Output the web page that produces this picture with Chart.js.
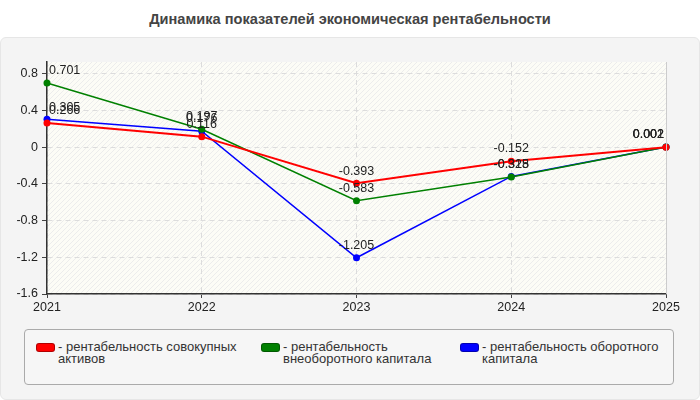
<!DOCTYPE html>
<html>
<head>
<meta charset="utf-8">
<script src="https://cdn.jsdelivr.net/npm/chart.js@4"></script>
<style>
  html, body { margin: 0; padding: 0; background: #fff; }
  body { width: 700px; height: 400px; position: relative; overflow: hidden; font-family: "Liberation Sans", Arial, sans-serif; }
  .title { position: absolute; left: 0; top: 11px; width: 700px; text-align: center; font-weight: bold; font-size: 14.6px; color: #444; }
  .panel { position: absolute; left: 0; top: 37px; width: 698px; height: 361px; background: #f4f4f4; border: 1px solid #e6e6e6; border-radius: 6px; }
  .chart-box { position: absolute; left: 0; top: 38px; width: 700px; height: 285px; }
  .legend { position: absolute; left: 24px; top: 329px; width: 648px; height: 54px; border: 1px solid #aaa; border-radius: 4px; background: #f6f6f6; font-family: "Liberation Sans Narrow", "Liberation Sans", sans-serif; font-size: 13px; color: #333; }
  .item { position: absolute; top: 11px; line-height: 12px; }
  .sw { position: absolute; left: 0; top: 2px; width: 17px; height: 7px; border-radius: 3px; border: 0.5px solid rgba(0,0,0,0.3); }
  .txt { position: absolute; left: 22px; top: 0; }
</style>
</head>
<body>
<div class="title">Динамика показателей экономическая рентабельности</div>
<div class="panel"></div>
<div class="chart-box"><canvas id="chart" width="700" height="285"></canvas></div>
<div class="legend" id="legend"></div>
<script>
const years = ['2021', '2022', '2023', '2024', '2025'];
const seriesNames = [
  'рентабельность совокупных активов',
  'рентабельность внеоборотного капитала',
  'рентабельность оборотного капитала'
];
const totalAssets = [0.266, 0.116, -0.393, -0.152, 0.001];
const fixedCapital = [0.701, 0.197, -0.583, -0.325, 0.002];
const workingCapital = [0.305, 0.176, -1.205, -0.318, 0.002];
const seriesColors = ['#ff0000', '#008000', '#0000ff'];
const yTicks = [-1.6, -1.2, -0.8, -0.4, 0, 0.4, 0.8];

const FONT = '"Liberation Sans", Arial, sans-serif';

// plot background with light hatching and a right border
const plotBg = {
  id: 'plotBg',
  beforeDraw(chart) {
    const { ctx, chartArea: a } = chart;
    ctx.save();
    ctx.fillStyle = '#fcfcf6';
    ctx.fillRect(a.left, a.top, a.right - a.left, a.bottom - a.top);
    ctx.beginPath();
    ctx.rect(a.left, a.top, a.right - a.left, a.bottom - a.top);
    ctx.clip();
    ctx.strokeStyle = '#ececec';
    ctx.lineWidth = 1;
    const h = a.bottom - a.top;
    for (let x = a.left - h; x < a.right; x += 5) {
      ctx.beginPath();
      ctx.moveTo(x, a.bottom);
      ctx.lineTo(x + h, a.top);
      ctx.stroke();
    }
    ctx.restore();
  },
  afterDraw(chart) {
    const { ctx, chartArea: a } = chart;
    ctx.save();
    ctx.strokeStyle = '#cccccc';
    ctx.lineWidth = 1;
    ctx.beginPath();
    ctx.moveTo(a.right + 0.5, a.top);
    ctx.lineTo(a.right + 0.5, a.bottom);
    ctx.stroke();
    ctx.restore();
  }
};

// value labels above points
const pointLabels = {
  id: 'pointLabels',
  afterDatasetsDraw(chart) {
    const { ctx } = chart;
    ctx.save();
    ctx.font = '12.5px "Liberation Sans", Arial, sans-serif';
    ctx.fillStyle = '#222';
    ctx.textBaseline = 'bottom';
    chart.data.datasets.forEach((ds, di) => {
      const meta = chart.getDatasetMeta(di);
      meta.data.forEach((pt, i) => {
        let x = pt.x;
        if (i === 0) { ctx.textAlign = 'left'; x += 2; }
        else if (i === meta.data.length - 1) { ctx.textAlign = 'right'; x -= 2; }
        else ctx.textAlign = 'center';
        ctx.fillText(String(ds.data[i]), x, pt.y - 6);
      });
    });
    ctx.restore();
  }
};

function makeSet(label, data, color, width) {
  return {
    label, data,
    borderColor: color, backgroundColor: color,
    borderWidth: width, pointRadius: 3.5, pointBorderWidth: 0,
    pointBackgroundColor: color, tension: 0
  };
}

new Chart(document.getElementById('chart'), {
  type: 'line',
  data: {
    labels: years,
    datasets: [
      makeSet(seriesNames[0], totalAssets, seriesColors[0], 2),
      makeSet(seriesNames[1], fixedCapital, seriesColors[1], 1.5),
      makeSet(seriesNames[2], workingCapital, seriesColors[2], 1.5)
    ]
  },
  options: {
    responsive: false,
    animation: false,
    layout: { padding: { left: 0, right: 34, top: 24, bottom: 7 } },
    plugins: { legend: { display: false }, tooltip: { enabled: false } },
    scales: {
      x: {
        offset: false,
        grid: { color: '#dcdcdc', tickColor: '#444', tickLength: 4, lineWidth: 1 },
        border: { color: '#333', width: 1.5, dash: [5, 4] },
        ticks: { color: '#222', font: { family: FONT, size: 12.5 }, padding: 2, maxRotation: 0 },
        afterFit(s) { s.height = 22; }
      },
      y: {
        min: -1.6, max: 0.93,
        grid: { color: '#dcdcdc', tickColor: '#444', tickLength: 5, lineWidth: 1 },
        border: { color: '#333', width: 1.5, dash: [5, 4] },
        ticks: { color: '#222', font: { family: FONT, size: 12.5 }, padding: 4 },
        afterBuildTicks(s) { s.ticks = yTicks.map(v => ({ value: v })); },
        afterFit(s) { s.width = 47; }
      }
    }
  },
  plugins: [plotBg, pointLabels]
});

// html legend
const legendEl = document.getElementById('legend');
const itemLeft = [11, 236, 435];
const itemWidth = [212, 180, 210];
seriesNames.forEach((name, i) => {
  const it = document.createElement('div');
  it.className = 'item';
  it.style.left = itemLeft[i] + 'px';
  it.style.width = itemWidth[i] + 'px';
  it.innerHTML = '<span class="sw" style="background:' + seriesColors[i] + '"></span>' +
    '<span class="txt" style="width:' + (itemWidth[i] - 22) + 'px">- ' + name + '</span>';
  legendEl.appendChild(it);
});
</script>
</body>
</html>
